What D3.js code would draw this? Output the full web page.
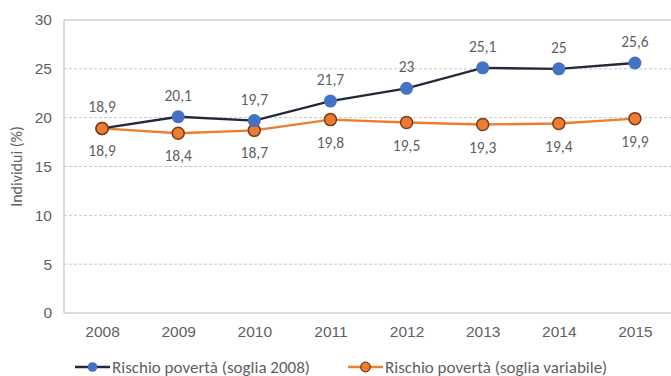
<!DOCTYPE html>
<html>
<head>
<meta charset="utf-8">
<script src="https://cdn.jsdelivr.net/npm/d3@7"></script>
<style>
  body { margin: 0; background: #fff; }
  svg { font-family: Calibri, Carlito, "Open Sans", sans-serif; display: block; }
</style>
</head>
<body>
<div id="chart"></div>
<script>
// Rischio povertà: soglia fissa 2008 vs soglia variabile
const years = ['2008', '2009', '2010', '2011', '2012', '2013', '2014', '2015'];
const soglia2008 = [18.9, 20.1, 19.7, 21.7, 23, 25.1, 25, 25.6];
const sogliaVariabile = [18.9, 18.4, 18.7, 19.8, 19.5, 19.3, 19.4, 19.9];
const yTicks = [0, 5, 10, 15, 20, 25, 30];
const seriesNames = ['Rischio povertà (soglia 2008)', 'Rischio povertà (soglia variabile)'];

const width = 671, height = 376;
const margin = { top: 20, right: -2, bottom: 63, left: 64 };

const svg = d3.select('#chart').append('svg')
    .attr('width', width).attr('height', height);

const x = d3.scalePoint()
    .domain(years)
    .range([margin.left, width - margin.right])
    .padding(0.5);

const y = d3.scaleLinear()
    .domain([0, 30])
    .range([height - margin.bottom, margin.top]);

const fmt = v => String(v).replace('.', ',');
const textCol = '#5f5f5f';

// dashed gridlines
svg.append('g')
    .selectAll('line')
    .data(yTicks.filter(t => t > 0 && t < 30))
    .join('line')
    .attr('x1', margin.left).attr('x2', width)
    .attr('y1', d => y(d)).attr('y2', d => y(d))
    .attr('stroke', '#c8c8c8').attr('stroke-width', 1)
    .attr('stroke-dasharray', '3,2');

// frame: top, left, bottom
svg.append('line')
    .attr('x1', margin.left).attr('x2', width)
    .attr('y1', y(30)).attr('y2', y(30))
    .attr('stroke', '#d0d0d0').attr('stroke-width', 1.5);
svg.append('line')
    .attr('x1', margin.left).attr('x2', width)
    .attr('y1', y(0)).attr('y2', y(0))
    .attr('stroke', '#d0d0d0').attr('stroke-width', 1.5);
svg.append('line')
    .attr('x1', margin.left).attr('x2', margin.left)
    .attr('y1', y(30)).attr('y2', y(0))
    .attr('stroke', '#d0d0d0').attr('stroke-width', 1.5);

// Y axis
svg.append('g')
    .attr('transform', `translate(${margin.left},0)`)
    .call(d3.axisLeft(y).tickValues(yTicks).tickSize(0).tickPadding(12))
    .call(g => g.select('.domain').remove())
    .call(g => g.selectAll('text').attr('font-size', '15.5px').attr('fill', textCol));

// X axis
svg.append('g')
    .attr('transform', `translate(0,${y(0)})`)
    .call(d3.axisBottom(x).tickSize(0).tickPadding(13))
    .call(g => g.select('.domain').remove())
    .call(g => g.selectAll('text').attr('font-size', '15.5px').attr('fill', textCol));

// Y title
svg.append('text')
    .attr('transform', `translate(22,${(y(30) + y(0)) / 2}) rotate(-90)`)
    .attr('text-anchor', 'middle')
    .attr('font-size', '16px').attr('fill', textCol)
    .text('Individui (%)');

const line = d3.line()
    .x((d, i) => x(years[i]))
    .y(d => y(d));

// orange series
svg.append('path').datum(sogliaVariabile)
    .attr('fill', 'none').attr('stroke', '#ED7D31').attr('stroke-width', 2.4)
    .attr('d', line);
// blue series
svg.append('path').datum(soglia2008)
    .attr('fill', 'none').attr('stroke', '#222a3a').attr('stroke-width', 2.4)
    .attr('d', line);

svg.append('g').selectAll('circle')
    .data(sogliaVariabile)
    .join('circle')
    .attr('cx', (d, i) => x(years[i])).attr('cy', d => y(d))
    .attr('r', 6).attr('fill', '#ED7D31')
    .attr('stroke', '#7a3b17').attr('stroke-width', 1.5);

svg.append('g').selectAll('circle')
    .data(soglia2008)
    .join('circle')
    .attr('cx', (d, i) => x(years[i])).attr('cy', d => y(d))
    .attr('r', 6.5).attr('fill', '#4472C4');

// 2008 points coincide: redraw orange on top
svg.append('circle')
    .attr('cx', x(years[0])).attr('cy', y(sogliaVariabile[0]))
    .attr('r', 6).attr('fill', '#ED7D31')
    .attr('stroke', '#7a3b17').attr('stroke-width', 1.5);

// data labels
svg.append('g').selectAll('text')
    .data(soglia2008)
    .join('text')
    .attr('x', (d, i) => x(years[i])).attr('y', d => y(d) - 16)
    .attr('text-anchor', 'middle')
    .attr('font-size', '15.5px').attr('fill', textCol)
    .text(d => fmt(d));

svg.append('g').selectAll('text')
    .data(sogliaVariabile)
    .join('text')
    .attr('x', (d, i) => x(years[i])).attr('y', d => y(d) + 28)
    .attr('text-anchor', 'middle')
    .attr('font-size', '15.5px').attr('fill', textCol)
    .text(d => fmt(d));

// legend
const legend = [
    { name: seriesNames[0], line: '#222a3a', fill: '#4472C4', stroke: 'none', x: 75 },
    { name: seriesNames[1], line: '#ED7D31', fill: '#ED7D31', stroke: '#7a3b17', x: 348 },
];
const ly = 367;
legend.forEach(l => {
    const g = svg.append('g');
    g.append('line')
        .attr('x1', l.x).attr('x2', l.x + 35)
        .attr('y1', ly).attr('y2', ly)
        .attr('stroke', l.line).attr('stroke-width', 2.6);
    g.append('circle')
        .attr('cx', l.x + 17.5).attr('cy', ly).attr('r', 4.8)
        .attr('fill', l.fill).attr('stroke', l.stroke).attr('stroke-width', 1.3);
    g.append('text')
        .attr('x', l.x + 37).attr('y', ly + 5.5)
        .attr('font-size', '17px').attr('fill', textCol)
        .text(l.name);
});
</script>
</body>
</html>
